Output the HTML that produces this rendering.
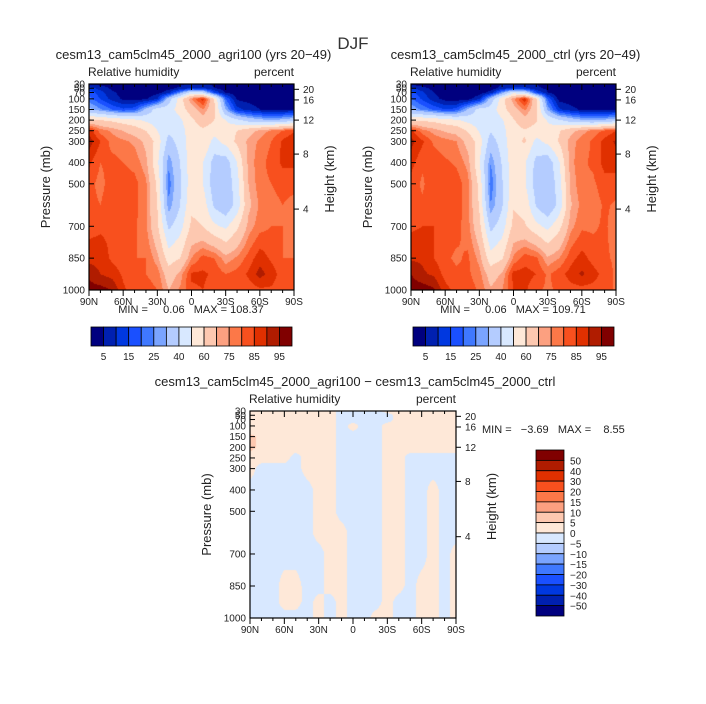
<!DOCTYPE html>
<html><head><meta charset="utf-8">
<style>
body{margin:0;background:#fff;}
#root{position:relative;width:706px;height:704px;overflow:hidden;background:#fff;font-family:"Liberation Sans",sans-serif;color:#222;}
.t{position:absolute;white-space:nowrap;line-height:1;}
canvas{position:absolute;}
</style></head>
<body>
<div id="root">
<div class="t" style="left:0;width:706px;text-align:center;top:35px;font-size:17px;color:#333;">DJF</div>
<svg id="svg" width="706" height="704" style="position:absolute;left:0;top:0;z-index:2"></svg>
</div>
<script>
// ---- data ----
const lats = [90,80,70,60,50,40,30,20,10,0,-10,-20,-30,-40,-50,-60,-70,-80,-90];
const levels = [30,50,70,100,150,200,250,300,400,500,600,700,850,925,1000];
const rhAgri = [
 [4,3,3,3,3,3,3,3,4,6,6,4,3,3,3,3,3,3,3],
 [12,8,4,3,2,2,2,3,6,10,10,5,3,2,2,2,2,2,2],
 [18,12,6,3,2,2,3,8,25,45,40,15,4,2,2,2,2,2,2],
 [22,15,8,4,3,4,10,35,55,75,88,60,20,4,3,2,2,2,3],
 [32,26,20,16,18,32,45,45,55,65,75,62,30,12,8,5,4,4,5],
 [62,60,58,55,52,48,45,42,48,58,66,60,50,42,36,32,30,32,36],
 [88,78,74,70,66,60,50,42,46,55,58,55,55,60,66,72,76,80,84],
 [93,85,78,76,74,68,56,36,44,56,60,46,54,62,72,76,80,86,90],
 [86,80,82,80,78,72,52,26,40,56,50,36,34,50,72,78,82,86,86],
 [82,78,83,83,82,76,58,22,38,56,50,34,32,46,70,78,80,82,82],
 [82,80,84,83,82,76,60,26,40,58,56,38,32,44,68,76,78,80,78],
 [83,84,84,82,81,76,62,38,46,62,60,52,48,58,72,78,80,80,78],
 [88,88,84,82,80,80,72,55,60,75,82,80,72,76,82,88,84,80,80],
 [94,90,88,84,82,80,78,65,72,86,86,84,80,82,86,92,88,82,80],
 [97,97,95,86,82,82,80,70,76,84,85,82,80,80,82,84,84,82,80]
];
const rhDiff = [
 [2,2,2,2,2,2,2,2,-2,-2,-2,-2,2,2,2,2,2,2,2],
 [2,2,2,2,2,2,2,2,-2,-2,-2,-2,-2,2,2,2,2,2,2],
 [2,2,2,2,2,2,2,2,-2,-2,-2,-2,-2,2,2,2,2,2,2],
 [2,2,2,2,2,2,2,2,-2,2,-2,-2,2,2,2,2,2,2,2],
 [6,4,2,2,2,2,2,2,-2,-2,-2,-2,2,2,2,2,2,2,2],
 [7,3,2,2,2,2,2,2,-2,-2,-2,-2,2,2,2,2,2,2,2],
 [2,2,2,2,-2,2,2,2,-2,-2,-2,-2,2,2,-2,-2,-2,-2,-2],
 [2,-2,-2,-2,-2,2,2,2,-2,-2,-2,-2,2,2,-2,-2,-2,-2,-2],
 [-2,-2,-2,-2,-2,-2,2,2,-2,-2,-2,-2,2,2,-2,-2,2,-2,-2],
 [-2,-2,-2,-2,-2,-2,2,2,-2,-2,-2,-2,2,2,-2,-2,2,-2,-2],
 [-2,-2,-2,-2,-2,-2,2,2,2,-2,-2,-2,2,2,-2,-2,2,-2,-2],
 [-2,-2,-2,-2,-2,-2,-2,2,2,-2,-2,-2,2,2,-2,-2,2,-2,2],
 [-2,-2,-2,2,2,-2,-2,2,2,-2,-2,-2,2,2,-2,2,2,-2,2],
 [-2,-2,-2,2,2,-2,2,-2,2,-2,-2,-2,2,-2,-2,2,2,-2,2],
 [-2,-2,-2,-2,-2,-2,2,-2,2,-2,-2,2,2,-2,-2,2,2,-2,2]
];
const rhBounds = [5,10,15,20,25,30,40,50,60,70,75,80,85,90,95];
const rhLabels = ["5","15","25","40","60","75","85","95"];
const diffBounds = [-50,-40,-30,-20,-15,-10,-5,0,5,10,15,20,30,40,50];
const diffLabels = ["50","40","30","20","15","10","5","0","\u22125","\u221210","\u221215","\u221220","\u221230","\u221240","\u221250"];
const presTicks = [30,50,70,100,150,200,250,300,400,500,700,850,1000];
const heightTicks = ["4","8","12","16","20"];
const heightPres = [619,360,200,105,55];
const latTicks = ["90N","60N","30N","0","30S","60S","90S"];
const latTickVals = [90,60,30,0,-30,-60,-90];
const colors = ["#00007f","#0020b0","#0038e0","#1a50ff","#3f78ff","#7aa4ff","#b4ccff","#d8e8ff","#fee8d8","#fdc8b0","#fca080","#fc7848","#f8501e","#e03000","#b01c00","#800000"];
const rhCtrl = rhAgri.map((r,i)=>r.map((v,j)=>v - rhDiff[i][j]*0.5));

const root = document.getElementById('root');
const svg = document.getElementById('svg');
const NS = 'http://www.w3.org/2000/svg';
function mk(tag, attrs){const e=document.createElementNS(NS,tag);for(const k in attrs)e.setAttribute(k,attrs[k]);svg.appendChild(e);return e;}
function txt(s, x, y, size, anchor, name, rot){
  const e=mk('text',{x:x,y:y,'font-size':size,'text-anchor':anchor||'start','font-family':'Liberation Sans, sans-serif',fill:'#222'});
  e.style.whiteSpace='pre';
  if(rot) e.setAttribute('transform','rotate(-90 '+x+' '+y+')');
  e.textContent=s;
  
  
  return e;
}
function colorFor(v,b){let i=0;while(i<b.length&&v>=b[i])i++;return colors[i];}
function sample(grid,lat,p){
  let fj=(90-lat)/10; let j=Math.min(Math.floor(fj),17); let tj=fj-j;
  let i=0; while(i<levels.length-2&&p>levels[i+1])i++;
  let ti=(p-levels[i])/(levels[i+1]-levels[i]); ti=Math.max(0,Math.min(1,ti));
  const a=grid[i][j]*(1-tj)+grid[i][j+1]*tj;
  const b=grid[i+1][j]*(1-tj)+grid[i+1][j+1]*tj;
  return a*(1-ti)+b*ti;
}
function panel(P, grid, bounds, name, title, minmax){
  const W=P.x1-P.x0,H=P.y1-P.y0;
  const xs=lat=>P.x0+(90-lat)/180*W;
  const ys=p=>P.y1-(1000-p)/970*H;
  const cv=document.createElement('canvas');cv.width=W;cv.height=H;
  cv.style.left=P.x0+'px';cv.style.top=P.y0+'px';
  
  
  root.appendChild(cv);
  const ctx=cv.getContext('2d');
  for(let px=0;px<W;px++){for(let py=0;py<H;py++){
    const lat=90-(px+0.5)/W*180; const p=1000-(H-py-0.5)/H*970;
    ctx.fillStyle=colorFor(sample(grid,lat,p),bounds);ctx.fillRect(px,py,1,1);
  }}
  mk('rect',{x:P.x0,y:P.y0,width:W,height:H,fill:'none',stroke:'#000','stroke-width':1.2});
  presTicks.forEach(p=>{const y=ys(p);mk('line',{x1:P.x0,x2:P.x0+5,y1:y,y2:y,stroke:'#000'});
    txt(String(p),P.x0-4,y+3.5,10,'end',name+'-pressure-tick');});
  heightPres.forEach((p,k)=>{const y=ys(p);mk('line',{x1:P.x1,x2:P.x1+5,y1:y,y2:y,stroke:'#000'});
    txt(heightTicks[k],P.x1+9,y+3.5,10,'start',name+'-height-tick');});
  for(let l=90;l>=-90;l-=10){const x=xs(l);const len=(l%30===0)?6:3;
    mk('line',{x1:x,x2:x,y1:P.y1,y2:P.y1+len,stroke:'#000'});mk('line',{x1:x,x2:x,y1:P.y0,y2:P.y0+len,stroke:'#000'});}
  latTickVals.forEach((l,k)=>txt(latTicks[k],xs(l),P.y1+15,10,'middle',name+'-lat-tick'));
  txt('Pressure (mb)',P.x0-39,(P.y0+P.y1)/2,13,'middle',name+'-y-axis-title',true);
  txt('Height (km)',P.x1+40,(P.y0+P.y1)/2-8,13,'middle',name+'-right-axis-title',true);
  txt('Relative humidity',P.x0-1,P.y0-8,12,'start',name+'-variable-label');
  txt('percent',P.x1,P.y0-8,12,'end',name+'-units-label');
  txt(title,(P.x0+P.x1)/2+2,P.y0-25,13,'middle',name+'-title');
  if(minmax) txt(minmax[0],minmax[1],minmax[2],11,minmax[3],name+'-min-max');
}
function hbar(x0,x1,y0,y1,name){
  const w=(x1-x0)/16;
  colors.forEach((c,k)=>{const r=mk('rect',{x:x0+k*w,y:y0,width:w,height:y1-y0,fill:c,stroke:'#000','stroke-width':0.8});});
  rhLabels.forEach((s,k)=>txt(s,x0+(1+2*k)*w,y1+14,10,'middle',name+'-label'));
}
panel({x0:89,x1:294,y0:84,y1:290},rhAgri,rhBounds,'agri100-panel','cesm13_cam5clm45_2000_agri100 (yrs 20\u221249)',['MIN =     0.06   MAX = 108.37',191,313,'middle']);
panel({x0:411,x1:616,y0:84,y1:290},rhCtrl,rhBounds,'ctrl-panel','cesm13_cam5clm45_2000_ctrl (yrs 20\u221249)',['MIN =     0.06   MAX = 109.71',513,313,'middle']);
panel({x0:250,x1:456,y0:411,y1:618},rhDiff,diffBounds,'diff-panel','cesm13_cam5clm45_2000_agri100 \u2212 cesm13_cam5clm45_2000_ctrl',['MIN =   \u22123.69   MAX =    8.55',482,433,'start']);
hbar(91,292,327,346,'agri100-colorbar');
hbar(413,614,327,346,'ctrl-colorbar');
(function(){const x0=536,x1=564,y0=450,y1=616,h=(y1-y0)/16;
  colors.slice().reverse().forEach((c,k)=>{const r=mk('rect',{x:x0,y:y0+k*h,width:x1-x0,height:h,fill:c,stroke:'#000','stroke-width':0.8});});
  diffLabels.forEach((s,k)=>txt(s,x1+6,y0+(k+1)*h+4,10,'start','diff-colorbar-label'));
})();
</script>
</body></html>
